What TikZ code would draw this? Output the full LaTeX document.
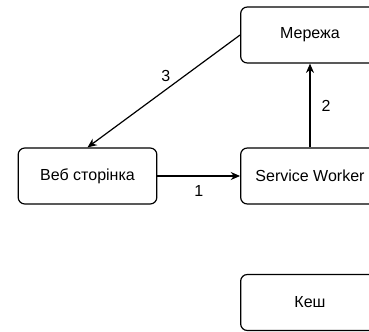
\documentclass[tikz,border=0pt]{standalone}
\usepackage{fontspec}
\setmainfont{Liberation Sans}
\usetikzlibrary{arrows.meta}
\tikzset{
  blok/.style={draw, rounded corners=5pt, line width=0.9pt, minimum width=104pt, minimum height=42pt, font=\fontsize{12}{14}\selectfont},
  strilka/.style={-{Stealth[length=7pt,width=6pt]}, line width=0.9pt},
  nomer/.style={font=\fontsize{12}{14}\selectfont}
}
\begin{document}
\begin{tikzpicture}[x=0.75pt,y=-0.75pt]
    \useasboundingbox (0,0) rectangle (369,332);
    \clip (0,0) rectangle (369,332);

    % Блоки
    \node[blok] (web) at (87.5,176) {Веб сторінка};
    \node[blok] (sw) at (310,176) {Service Worker};
    \node[blok] (net) at (310,35) {Мережа};
    \node[blok] (cache) at (310,302.5) {Кеш};

    % Стрілки
    \draw[strilka] (web) -- node[nomer, below=3pt] {1} (sw);
    \draw[strilka] (sw) -- node[nomer, right=5pt] {2} (net);
    \draw[strilka] (net.west) -- node[nomer, above=3pt, xshift=1.5pt] {3} (web.north);
\end{tikzpicture}
\end{document}
